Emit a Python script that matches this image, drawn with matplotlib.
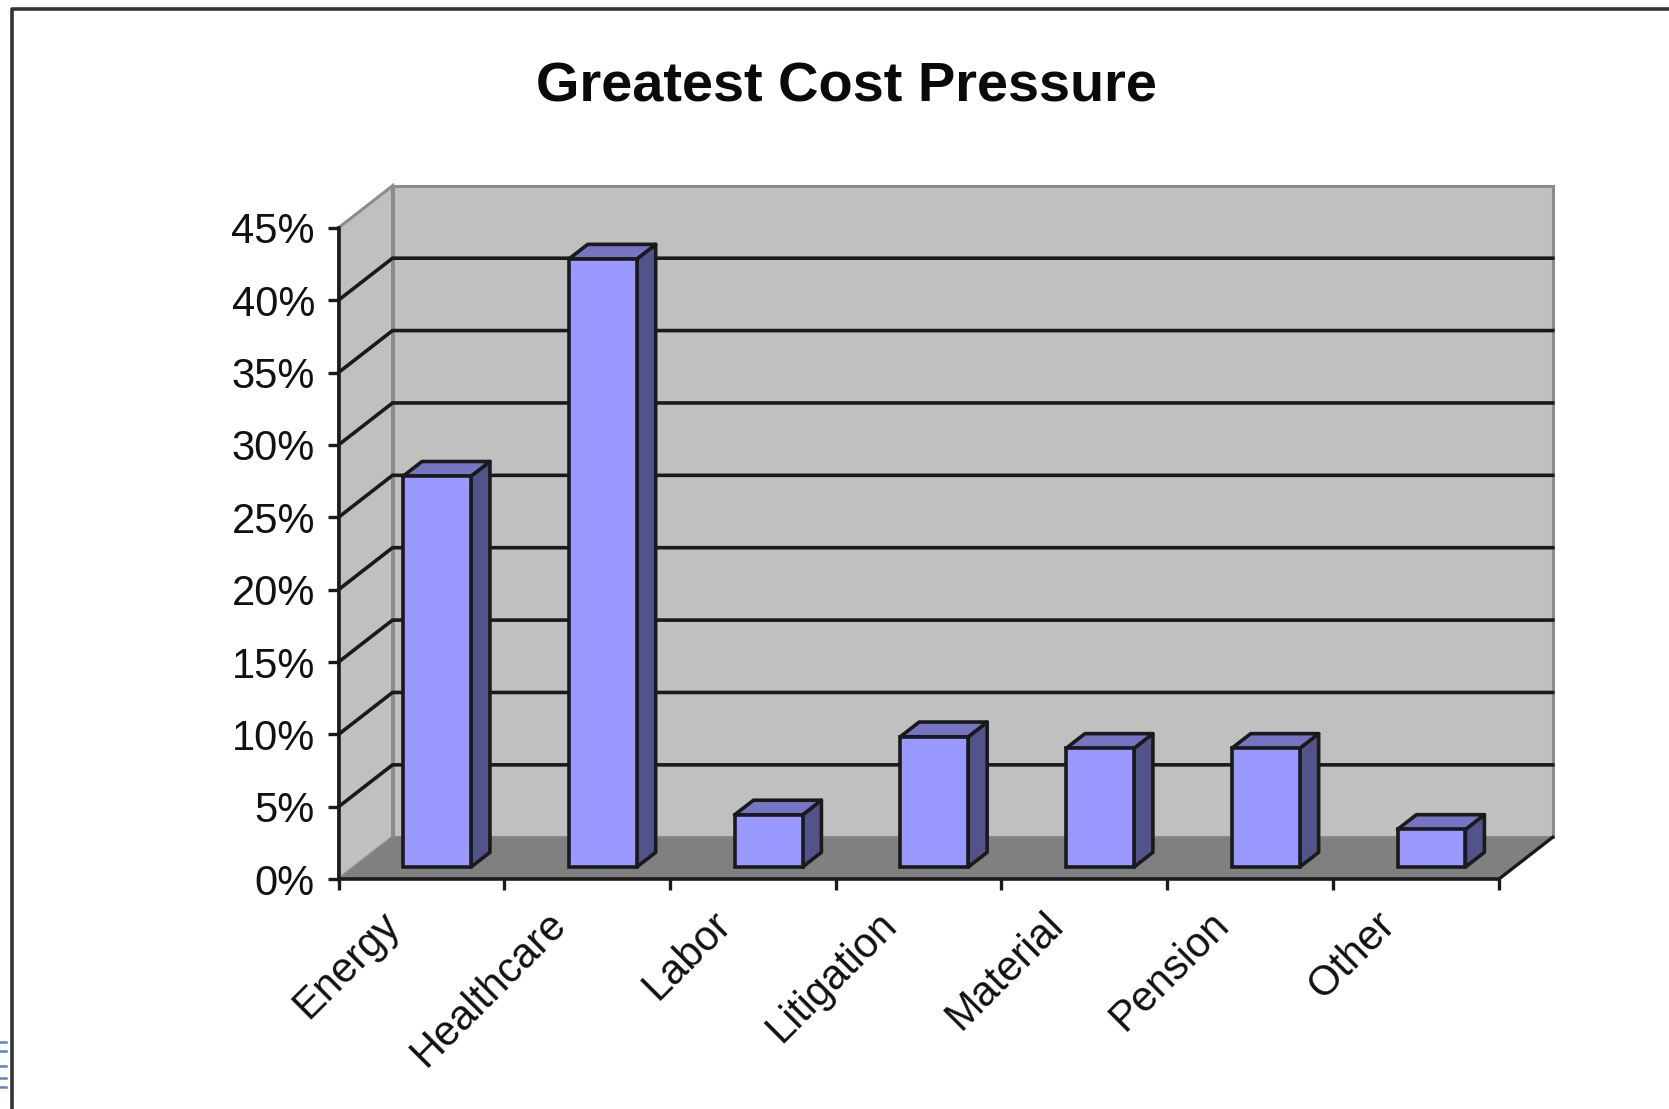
import matplotlib
matplotlib.use("Agg")
import matplotlib.pyplot as plt
import numpy as np

plt.rcParams['font.family'] = ['Liberation Sans', 'DejaVu Sans']

categories = ['Energy', 'Healthcare', 'Labor', 'Litigation', 'Material', 'Pension', 'Other']
values = [27.0, 42.0, 3.6, 9.0, 8.2, 8.2, 2.6]
y_ticks = [0, 5, 10, 15, 20, 25, 30, 35, 40, 45]

W, H = 1669, 1109
fig = plt.figure(figsize=(W / 100, H / 100), dpi=100, facecolor='white')

# front plane of the fake 3d box
left, right, bottom, top = 338.5, 1498.7, 879.2, 227.8
ax = fig.add_axes([left / W, 1 - bottom / H, (right - left) / W, (bottom - top) / H])
ax.set_xlim(0, 7)
ax.set_ylim(0, 45)
ax.patch.set_visible(False)

# depth of the box and of the bars, in data units
dx, dy = 0.326, 2.9
bar_w = 0.41
bar_pos = 0.29   # how far into the box the bars stand
bar_dep = 0.35

wall = '#c0c0c0'
floor = '#808080'
edge = '#1a1a1a'

ax.fill([dx, 7 + dx, 7 + dx, dx], [dy, dy, 45 + dy, 45 + dy], fc=wall, ec='#8c8c8c', lw=2.2, clip_on=False, zorder=1)
ax.fill([0, dx, dx, 0], [0, dy, 45 + dy, 45], fc=wall, ec='#8c8c8c', lw=2.2, clip_on=False, zorder=1)
ax.fill([0, 7, 7 + dx, dx], [0, 0, dy, dy], fc=floor, ec='none', clip_on=False, zorder=2)

# gridlines run along the side wall and then the back wall
for v in y_ticks[1:-1]:
    ax.plot([0, dx, 7 + dx], [v, v + dy, v + dy], color=edge, lw=2.6, clip_on=False, zorder=3, solid_joinstyle='miter')
ax.plot([7, 7 + dx], [0, dy], color=edge, lw=2.4, clip_on=False, zorder=3)

# bars
for i, val in enumerate(values):
    x0 = i + (1 - bar_w) / 2 + bar_pos * dx
    x1 = x0 + bar_w
    y0 = bar_pos * dy
    ox = bar_dep * dx
    oy = bar_dep * dy
    ax.fill([x1, x1 + ox, x1 + ox, x1], [y0, y0 + oy, y0 + val + oy, y0 + val],
            fc='#53538c', ec=edge, lw=2.6, clip_on=False, zorder=4, joinstyle='round')
    ax.fill([x0, x1, x1 + ox, x0 + ox], [y0 + val, y0 + val, y0 + val + oy, y0 + val + oy],
            fc='#7575c4', ec=edge, lw=2.6, clip_on=False, zorder=4, joinstyle='round')
    ax.bar(x0, val, width=bar_w, bottom=y0, align='edge', color='#9999ff', edgecolor=edge, linewidth=2.6,
           clip_on=False, zorder=5)

for s in ['top', 'right']:
    ax.spines[s].set_visible(False)
for s in ['left', 'bottom']:
    ax.spines[s].set_linewidth(2.6)
    ax.spines[s].set_color(edge)
    ax.spines[s].set_zorder(6)

ax.set_yticks(y_ticks)
ax.set_yticklabels(['%d%%' % v for v in y_ticks], fontsize=30, color='#111111')
ax.tick_params(axis='y', length=8, width=2.4, color=edge, pad=9)

ax.set_xticks(np.arange(0, 8))
ax.set_xticklabels([])
ax.tick_params(axis='x', which='major', length=8, width=2.4, color=edge)
# labels hang left of the category centres
ax.set_xticks(np.arange(7) + 0.25, minor=True)
ax.set_xticklabels(categories, minor=True, rotation=45, ha='right', va='top', rotation_mode='anchor',
                   fontsize=30, color='#111111')
ax.tick_params(axis='x', which='minor', length=0, pad=18)

fig.text(846 / W, 1 - 87 / H, 'Greatest Cost Pressure', fontsize=40.3, fontweight='bold',
         ha='center', va='center', color='#0a0a0a')

# outer chart frame
fig.add_artist(plt.Line2D([12 / W, 12 / W, 1], [0, 1 - 9 / H, 1 - 9 / H], color='#333333', lw=2.6,
                          transform=fig.transFigure))

# clipped blue strokes at the lower left edge
for yp in [1042, 1051, 1066, 1078, 1087]:
    fig.add_artist(plt.Line2D([0, 6 / W], [1 - yp / H, 1 - yp / H], color='#5b82c4', lw=1.8,
                              transform=fig.transFigure))

fig.savefig('out.png', dpi=100, facecolor='white')
